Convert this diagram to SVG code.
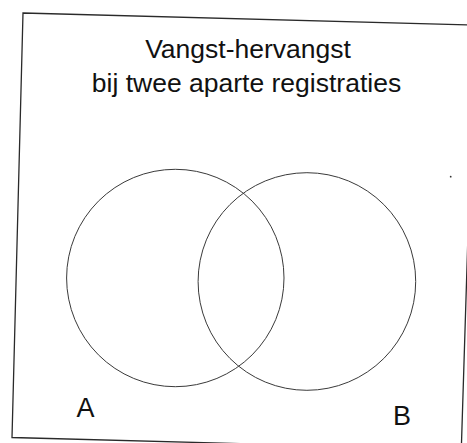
<svg xmlns="http://www.w3.org/2000/svg" width="467" height="443" viewBox="0 0 467 443">
  <style>
    .frame { fill: none; stroke: #2a2a2a; stroke-width: 1.3; }
    .set { fill: none; stroke: #3a3a3a; stroke-width: 1; }
    .title { font-family: "Liberation Sans", Arial, sans-serif; font-size: 26.5px; fill: #111; text-anchor: middle; }
    .lbl { font-family: "Liberation Sans", Arial, sans-serif; font-size: 27px; fill: #111; }
  </style>
  <rect width="467" height="443" fill="#ffffff"/>
  <g id="frame">
    <polygon class="frame" points="23,13 474.5,25 461.3,449.6 12,437.5"/>
    <circle cx="450.7" cy="176.7" r="0.9" fill="#333"/>
  </g>
  <g id="title">
    <text class="title" x="248" y="57.5">Vangst-hervangst</text>
    <text class="title" x="246.5" y="91.5">bij twee aparte registraties</text>
  </g>
  <g id="connectors"></g>
  <g id="set-A">
    <circle class="set" cx="175.3" cy="278" r="108.7"/>
    <text class="lbl" x="76.5" y="417.3">A</text>
  </g>
  <g id="set-B">
    <circle class="set" cx="306.9" cy="281.5" r="108.8"/>
    <text class="lbl" x="393" y="425">B</text>
  </g>
</svg>
